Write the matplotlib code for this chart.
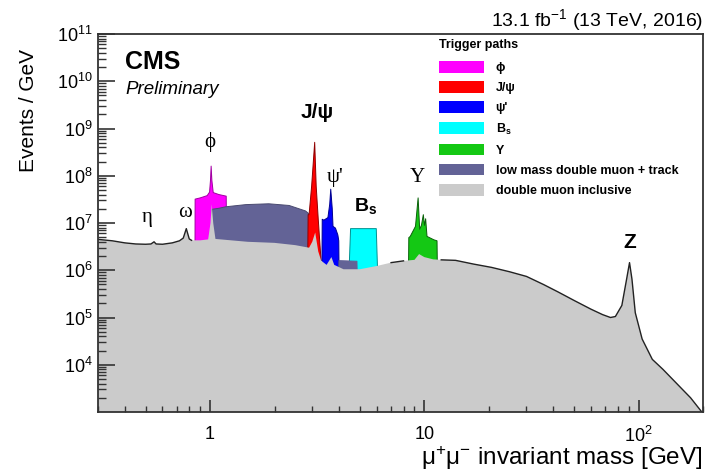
import numpy as np
import matplotlib.pyplot as plt
from matplotlib.patches import Patch

plt.rcParams['font.family'] = ['Liberation Sans', 'DejaVu Sans']
plt.rcParams['mathtext.fontset'] = 'custom'
plt.rcParams['mathtext.rm'] = 'Liberation Sans'
plt.rcParams['mathtext.it'] = 'Liberation Sans:italic'
plt.rcParams['mathtext.bf'] = 'Liberation Sans:bold'

# double muon inclusive (gray), mass [GeV] and Events/GeV
incl_mass = [0.30, 0.35, 0.40, 0.45, 0.50, 0.53, 0.548, 0.56, 0.60, 0.667, 0.72, 0.75,
             0.775, 0.80, 0.82, 0.90, 0.98, 1.005, 1.019, 1.035, 1.06, 1.5, 2.0, 2.5,
             2.9, 3.0, 3.097, 3.2, 3.3, 3.5, 3.686, 3.8, 4.2, 5.0, 6.0, 7.0, 8.0, 9.0,
             9.46, 10.0, 11.0, 12.0, 14.0, 17.0, 20.6, 25.0, 30.0, 36.0, 42.0, 50.0,
             60.0, 68.0, 74.0, 78.0, 83.6, 88.0, 90.8, 93.2, 96.6, 104.0, 116.0, 130.0,
             148.5, 175.0, 200.0]
incl_evts = [4.5e6, 4.2e6, 3.8e6, 3.6e6, 3.55e6, 3.6e6, 4.0e6, 3.6e6, 3.55e6, 3.8e6, 4.2e6, 4.8e6,
             7.6e6, 4.6e6, 4.3e6, 4.3e6, 4.5e6, 1.0e7, 2.5e7, 1.0e7, 4.6e6, 4.0e6, 3.8e6, 3.4e6,
             3.0e6, 4.0e6, 6.3e6, 2.5e6, 1.6e6, 1.3e6, 1.9e6, 1.3e6, 1.05e6, 1.05e6, 1.23e6, 1.45e6, 1.58e6, 1.66e6,
             2.2e6, 1.9e6, 1.7e6, 1.66e6, 1.62e6, 1.35e6, 1.15e6, 9.3e5, 7.4e5, 5.0e5, 3.5e5, 2.3e5,
             1.5e5, 1.15e5, 1.0e5, 1.05e5, 1.8e5, 6.5e5, 1.45e6, 6.5e5, 1.26e5, 3.5e4, 1.3e4, 8.0e3,
             4.3e3, 2.0e3, 9.3e2]

# phi trigger (magenta)
phi_mass = [0.851, 0.852, 0.90, 0.97, 0.995, 1.005, 1.012, 1.02, 1.035, 1.10, 1.19, 1.195]
phi_evts = [4.0e6, 3.2e7, 3.4e7, 3.8e7, 4.5e7, 8.0e7, 1.6e8, 8.0e7, 4.4e7, 4.0e7, 3.7e7, 4.0e6]

# low mass double muon + track (slate): main band and tail behind the psi'/Bs region
lmt_mass = [1.02, 1.022, 1.10, 1.18, 1.47, 1.88, 2.34, 2.79, 2.88, 2.95]
lmt_evts = [4.0e6, 1.95e7, 2.05e7, 2.2e7, 2.45e7, 2.55e7, 2.35e7, 1.8e7, 1.6e7, 1.55e6]
lmt_tail_mass = [3.99, 4.0, 4.85, 4.86]
lmt_tail_evts = [1.0e6, 1.6e6, 1.55e6, 1.0e6]

# J/psi trigger (red)
jpsi_mass = [2.86, 2.87, 2.90, 2.98, 3.08, 3.13, 3.20, 3.28, 3.30]
jpsi_evts = [2.5e6, 1.5e7, 1.5e7, 6.0e7, 5.1e8, 6.0e7, 1.2e7, 2.3e6, 1.6e6]

# psi' trigger (blue)
psi2_mass = [3.33, 3.34, 3.40, 3.55, 3.62, 3.66, 3.72, 3.75, 3.85, 3.95, 3.99, 4.00]
psi2_evts = [1.6e6, 1.2e7, 1.15e7, 1.3e7, 2.5e7, 5.2e7, 2.0e7, 8.5e6, 7.8e6, 5.6e6, 4.2e6, 1.2e6]

# Bs trigger (cyan)
bs_mass = [4.46, 4.53, 5.97, 6.05]
bs_evts = [1.1e6, 7.6e6, 7.6e6, 1.1e6]

# Upsilon trigger (green)
ups_mass = [8.45, 8.47, 8.6, 9.1, 9.36, 9.52, 9.7, 9.9, 10.02, 10.15, 10.3, 11.1, 11.47, 11.5]
ups_evts = [1.6e6, 4.9e6, 5.2e6, 8.5e6, 3.4e7, 7.4e6, 8.9e6, 1.5e7, 8.9e6, 1.23e7, 5.2e6, 4.4e6, 4.2e6, 1.6e6]

SLATE = '#636396'

fig = plt.figure(figsize=(7.08, 4.72), dpi=100)
ax = fig.add_axes([98 / 708, 60 / 472, 605 / 708, 378 / 472])

triggers = [
    (phi_mass, phi_evts, '#ff00ff', '#a000a0'),
    (lmt_mass, lmt_evts, SLATE, '#4a4a70'),
    (jpsi_mass, jpsi_evts, '#ff0000', '#900000'),
    (psi2_mass, psi2_evts, '#0000ff', '#000090'),
    (bs_mass, bs_evts, '#00ffff', '#009090'),
    (lmt_tail_mass, lmt_tail_evts, SLATE, SLATE),
    (ups_mass, ups_evts, '#14c814', '#0a600a'),
]
for i, (m, e, c, ec) in enumerate(triggers):
    ax.fill_between(m, 1e2, e, facecolor=c, lw=0, zorder=1 + i * 0.01)
    ax.plot(m, e, color=ec, lw=0.7, zorder=1.005 + i * 0.01)

ax.fill_between(incl_mass, 1e2, incl_evts, facecolor='#cbcbcb', lw=0, zorder=1.5)
im = np.array(incl_mass)
exposed = (im < 0.852) | ((im > 6.0) & (im < 8.46)) | (im > 11.4)
ax.plot(im, np.where(exposed, incl_evts, np.nan), color='#222222', lw=1.0, zorder=2)

ax.set_xscale('log')
ax.set_yscale('log')
ax.set_xlim(0.3, 200)
ax.set_ylim(1e3, 1e11)
ax.set_yticks([1e4, 1e5, 1e6, 1e7, 1e8, 1e9, 1e10, 1e11])
ax.set_xticks([1, 10, 100], ['1', '10', r'$10^{2}$'])

for s in ax.spines.values():
    s.set_color('#333333')
    s.set_linewidth(1.3)
ax.tick_params(axis='both', which='both', direction='in', colors='#333333',
               labelcolor='black', top=False, right=False)
ax.tick_params(axis='y', which='major', length=12, width=1.2, labelsize=13, pad=4)
ax.tick_params(axis='y', which='minor', length=6, width=1.0)
ax.tick_params(axis='x', which='major', length=9, width=1.2, labelsize=13, pad=10)
ax.tick_params(axis='x', which='minor', length=4.5, width=1.0)

# axis titles
fig.text(28 / 708, 1 - 110 / 472, 'Events / GeV', rotation=90, ha='center', va='center', fontsize=15)
fig.text(703 / 708, 1 - 465 / 472, 'μ$^{+}$μ$^{-}$ invariant mass [GeV]', ha='right',
         va='baseline', fontsize=17.5)
fig.text(703 / 708, 1 - 26 / 472, '13.1 fb$^{-1}$ (13 TeV, 2016)', ha='right', va='baseline', fontsize=14)

ax.text(0.045, 0.927, 'CMS', transform=ax.transAxes, fontsize=18, fontweight='bold', va='center')
ax.text(0.045, 0.853, 'Preliminary', transform=ax.transAxes, fontsize=13.5, style='italic', va='center')

# resonance labels
serif = ['Liberation Serif', 'DejaVu Serif']
ax.text(0.508, 10**7.12, 'η', family=serif, fontsize=15, ha='center', va='center')
ax.text(0.765, 10**7.22, 'ω', family=serif, fontsize=15, ha='center', va='center')
ax.text(1.0, 10**8.72, 'ϕ', family=serif, fontsize=15, ha='center', va='center')
ax.text(3.15, 10**9.33, 'J/ψ', fontsize=15, fontweight='bold', ha='center', va='center')
ax.text(3.83, 10**7.96, "ψ'", family=serif, fontsize=15, ha='center', va='center')
ax.text(5.34, 10**7.35, r'B$_\mathbf{s}$', fontsize=14, fontweight='bold', ha='center', va='center')
ax.text(9.23, 10**7.96, 'Υ', family=serif, fontsize=15, ha='center', va='center')
ax.text(90.8, 10**6.59, 'Z', fontsize=15, fontweight='bold', ha='center', va='center')

handles = [Patch(facecolor='#ff00ff', edgecolor='none', label='ϕ'),
           Patch(facecolor='#ff0000', edgecolor='none', label='J/ψ'),
           Patch(facecolor='#0000ff', edgecolor='none', label="ψ'"),
           Patch(facecolor='#00ffff', edgecolor='none', label=r'B$_\mathbf{s}$'),
           Patch(facecolor='#14c814', edgecolor='none', label='Υ'),
           Patch(facecolor=SLATE, edgecolor='none', label='low mass double muon + track'),
           Patch(facecolor='#cbcbcb', edgecolor='none', label='double muon inclusive')]
leg = ax.legend(handles=handles, loc='upper left', bbox_to_anchor=(0.5633, 0.986), frameon=False,
                borderpad=0, borderaxespad=0, handlelength=3.65, handleheight=1.04,
                labelspacing=0.57, handletextpad=0.9, title='Trigger paths', alignment='left',
                prop={'size': 9, 'weight': 'bold'}, title_fontproperties={'size': 9, 'weight': 'bold'})
leg._legend_box.sep = 7

fig.savefig('out.png', dpi=100)
